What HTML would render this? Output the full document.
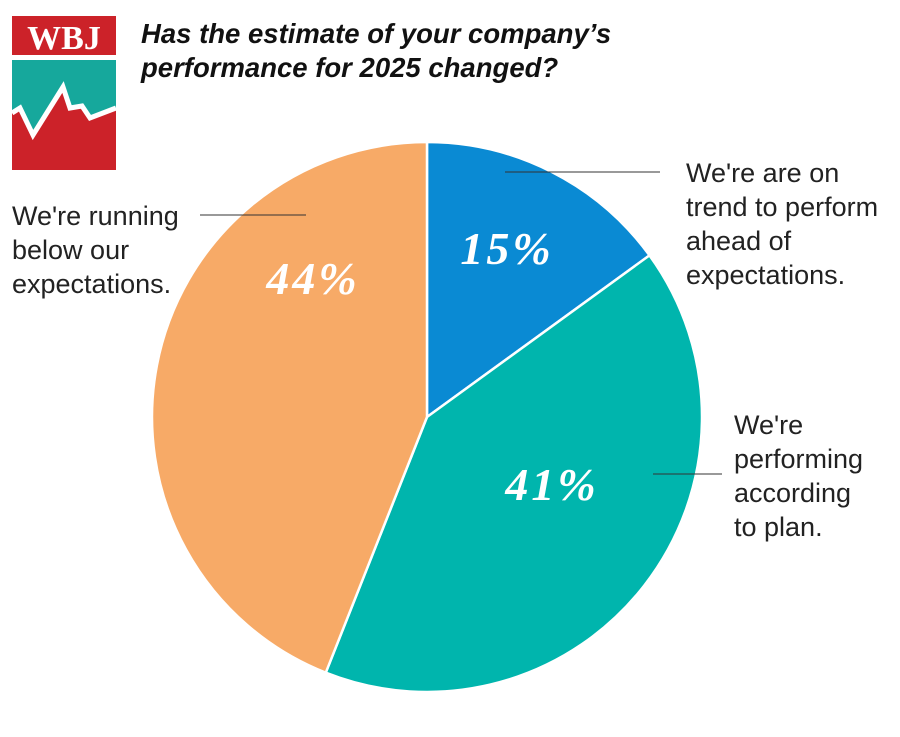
<!DOCTYPE html>
<html><head><meta charset="utf-8"><style>
body{margin:0;background:#fff;width:900px;height:732px;overflow:hidden;font-family:"Liberation Sans",Arial,sans-serif}
</style></head><body>
<svg width="900" height="732">
<g>
<rect x="12" y="16" width="104" height="39" fill="#cc2229"/>
<text x="64" y="49" text-anchor="middle" font-family="Liberation Serif,serif" font-weight="bold" font-size="34" fill="#fff">WBJ</text>
<rect x="12" y="60" width="104" height="110" fill="#cc2229"/>
<path d="M12,60H116V108L90,118L82,106L70,108L63,87L33,135L20,108L12,113Z" fill="#16a89c"/>
<polyline points="12,113 20,108 33,135 63,87 70,108 82,106 90,118 116,108" fill="none" stroke="#fff" stroke-width="5"/>
</g>
<text font-style="italic" font-weight="bold" font-size="27.5" fill="#111"><tspan x="141" y="43">Has the estimate of your company’s</tspan><tspan x="141" y="77">performance for 2025 changed?</tspan></text>
<g id="pie"></g>
<g font-size="27" fill="#222">
<text><tspan x="686" y="182">We're are on</tspan><tspan x="686" y="216">trend to perform</tspan><tspan x="686" y="250">ahead of</tspan><tspan x="686" y="284">expectations.</tspan></text>
<text><tspan x="734" y="434">We're</tspan><tspan x="734" y="468">performing</tspan><tspan x="734" y="502">according</tspan><tspan x="734" y="536">to plan.</tspan></text>
<text><tspan x="12" y="225">We're running</tspan><tspan x="12" y="259">below our</tspan><tspan x="12" y="293">expectations.</tspan></text>
</g>
<g stroke="#333" stroke-width="1">
<line x1="505" y1="172" x2="660" y2="172"/>
<line x1="653" y1="474" x2="722" y2="474"/>
<line x1="200" y1="215" x2="306" y2="215"/>
</g>
</svg>
<script>
const categories=["ahead","plan","below"];
const values=[15,41,44];
const labels=["15%","41%","44%"];
const colors=["#0a8ad3","#00b5ad","#f7aa67"];
const cx=427,cy=417,r=275;
const labelPos=[[507,264],[552,500],[313,294]];
const g=document.getElementById('pie');const ns="http://www.w3.org/2000/svg";
const total=values.reduce((a,b)=>a+b,0);let acc=0;
function pt(f){const a=f*2*Math.PI;return [cx+r*Math.sin(a),cy-r*Math.cos(a)];}
values.forEach((v,i)=>{
 const s=acc/total,e=(acc+v)/total;acc+=v;
 const p0=pt(s),p1=pt(e);
 const path=document.createElementNS(ns,'path');
 path.setAttribute('d',`M${cx},${cy}L${p0[0]},${p0[1]}A${r},${r} 0 ${e-s>0.5?1:0} 1 ${p1[0]},${p1[1]}Z`);
 path.setAttribute('fill',colors[i]);path.setAttribute('stroke','#fff');path.setAttribute('stroke-width','2.5');
 
 
 g.appendChild(path);
 const t=document.createElementNS(ns,'text');
 t.setAttribute('x',labelPos[i][0]);t.setAttribute('y',labelPos[i][1]);
 t.setAttribute('text-anchor','middle');t.setAttribute('fill','#fff');
 t.setAttribute('font-family','Liberation Serif,serif');t.setAttribute('font-style','italic');t.setAttribute('font-weight','bold');t.setAttribute('font-size','46');
 t.setAttribute('letter-spacing','3');
 t.textContent=labels[i];
 
 
 g.appendChild(t);
});
</script>
</body></html>
